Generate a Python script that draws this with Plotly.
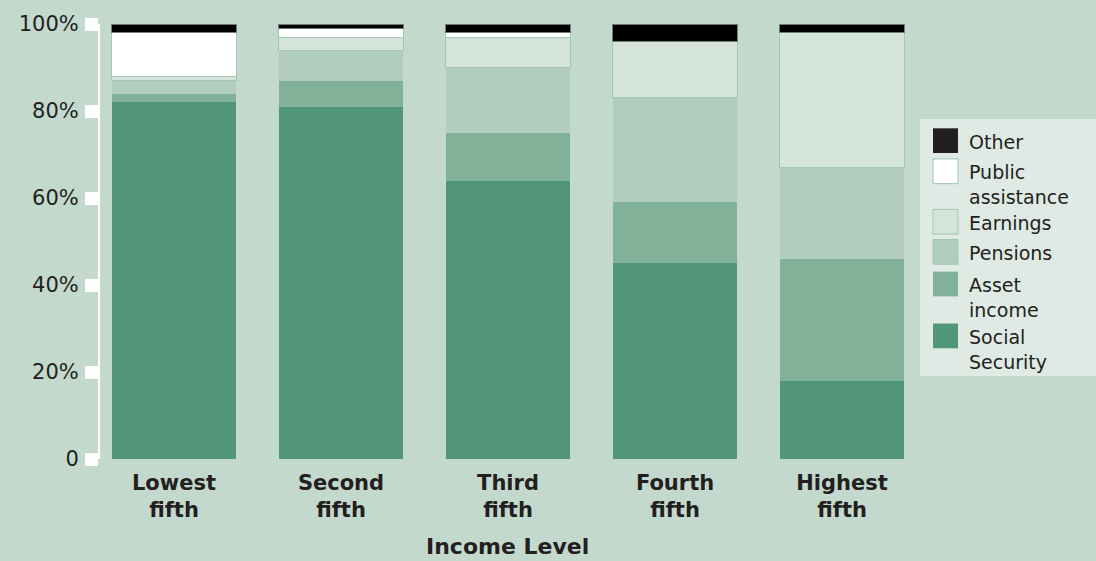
import plotly.graph_objects as go

categories = ["Lowest<br>fifth", "Second<br>fifth", "Third<br>fifth", "Fourth<br>fifth", "Highest<br>fifth"]
social_security = [82, 81, 64, 45, 18]
asset_income = [2, 6, 11, 14, 28]
pensions = [3, 7, 15, 24, 21]
earnings = [1, 3, 7, 13, 31]
public_assistance = [10, 2, 1, 0, 0]
other = [2, 1, 2, 4, 2]

tick_vals = [0, 20, 40, 60, 80, 100]
tick_text = ["0", "20%", "40%", "60%", "80%", "100%"]

BG = "#C3D9CE"
TXT = "#231F20"
FONT = "DejaVu Sans"
BORDER = "#A3C7B4"

series = [
    ("Social Security", social_security, "#52967A", 0, None),
    ("Asset income", asset_income, "#82B199", 0, None),
    ("Pensions", pensions, "#B0CDBE", 0, None),
    ("Earnings", earnings, "#D5E4DB", 1, BORDER),
    ("Public assistance", public_assistance, "#FFFFFF", 1, BORDER),
    ("Other", other, "#000000", 1, "#6F7F77"),
]

fig = go.Figure()
xs = list(range(len(categories)))
for name, vals, color, lw, lc in series:
    fig.add_trace(go.Bar(
        x=xs, y=vals, name=name, width=0.743,
        marker=dict(color=color, line=dict(width=lw, color=lc or color)),
        showlegend=False,
    ))

fig.update_layout(
    barmode="stack",
    width=1096, height=561,
    paper_bgcolor=BG, plot_bgcolor=BG,
    margin=dict(l=100, r=181, t=19, b=102),
    font=dict(family=FONT, color=TXT),
    xaxis=dict(
        range=[-0.443, 4.437], tickmode="array", tickvals=xs, ticktext=categories,
        showgrid=False, zeroline=False, showline=False, ticks="",
        ticklabelstandoff=9,
        tickfont=dict(family=FONT, size=21, color=TXT, weight="bold"),
    ),
    yaxis=dict(
        range=[0, 100], tickmode="array", tickvals=tick_vals, ticktext=tick_text,
        showgrid=False, zeroline=False, showline=True, linecolor="white", linewidth=2,
        ticks="outside", ticklen=13, tickwidth=13, tickcolor="white",
        ticklabelstandoff=2,
        tickfont=dict(family=FONT, size=21, color=TXT),
    ),
)

# axis title
fig.add_annotation(text="<b>Income Level</b>", xref="paper", yref="paper", x=0.5, y=(459 - 548) / 440,
                   xanchor="center", yanchor="middle", showarrow=False,
                   font=dict(family=FONT, size=22, color=TXT))

# custom legend
def px_x(p):
    return (p - 100) / 815

def px_y(p):
    return (459 - p) / 440

fig.add_shape(type="rect", xref="paper", yref="paper", x0=px_x(920), x1=px_x(1096), y0=px_y(375), y1=px_y(115),
              fillcolor="#DEEAE3", line=dict(width=0), layer="below")

LFS = 19
LH = LFS * 1.3
legend_items = [
    (137, "#231F20", None, "Other"),
    (168, "#FFFFFF", BORDER, "Public<br>assistance"),
    (219, "#D5E4DB", BORDER, "Earnings"),
    (249.5, "#B0CDBE", BORDER, "Pensions"),
    (282, "#82B199", None, "Asset<br>income"),
    (334.5, "#52967A", None, "Social<br>Security"),
]
for yc, col, bcol, label in legend_items:
    fig.add_shape(type="rect", xref="paper", yref="paper", x0=px_x(933), x1=px_x(958),
                  y0=px_y(yc + 12.5), y1=px_y(yc - 12.5), fillcolor=col,
                  line=dict(width=1 if bcol else 0, color=bcol or col))
    nlines = label.count("<br>") + 1
    ycenter = yc + 1 + (nlines - 1) * LH / 2
    fig.add_annotation(text=label, xref="paper", yref="paper", x=px_x(967), y=px_y(ycenter),
                       xanchor="left", yanchor="middle", align="left", showarrow=False,
                       font=dict(family=FONT, size=LFS, color=TXT))

fig.write_html("out.html", config={"displayModeBar": False},
               post_script="document.body.style.margin='0';document.body.style.background='" + BG + "';")
